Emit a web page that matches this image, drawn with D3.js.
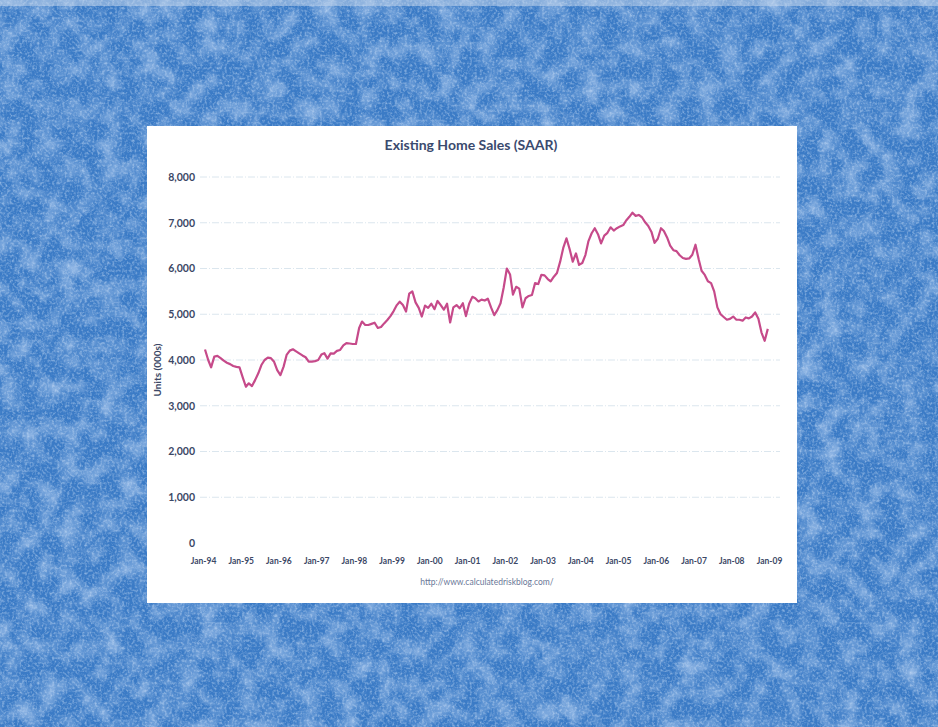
<!DOCTYPE html>
<html>
<head>
<meta charset="utf-8">
<script src="https://cdn.jsdelivr.net/npm/d3@7"></script>
<style>
html,body{margin:0;padding:0;background:#4a88cc;}
svg{display:block;}
</style>
</head>
<body>
<svg id="chart" width="938" height="727"></svg>
<script>
// ---- data ----
const title = "Existing Home Sales (SAAR)";
const yAxisTitle = "Units (000s)";
const sourceText = "http://www.calculatedriskblog.com/";
const startYear = 1994, startMonth = 0; // Jan-94, monthly
const sales = [
  4230, 4000, 3840, 4075, 4090, 4040, 3985, 3940, 3910, 3870,
  3850, 3840, 3620, 3415, 3490, 3430, 3560, 3710, 3890, 4000,
  4050, 4040, 3960, 3780, 3670, 3855, 4110, 4205, 4235, 4190,
  4145, 4100, 4060, 3965, 3965, 3975, 4000, 4120, 4150, 4030,
  4145, 4140, 4200, 4220, 4320, 4370, 4360, 4350, 4350, 4700,
  4840, 4765, 4765, 4790, 4815, 4700, 4720, 4800, 4875, 4960,
  5070, 5200, 5275, 5200, 5060, 5450, 5500, 5260, 5140, 4950,
  5190, 5140, 5230, 5110, 5290, 5200, 5100, 5230, 4820, 5150,
  5200, 5130, 5240, 4960, 5230, 5380, 5350, 5280, 5320, 5300,
  5340, 5150, 4980, 5090, 5240, 5580, 6000, 5870, 5430, 5600,
  5560, 5150, 5350, 5400, 5420, 5680, 5660, 5860, 5850, 5770,
  5720, 5820, 5900, 6150, 6450, 6660, 6420, 6150, 6330, 6080,
  6120, 6300, 6600, 6770, 6880, 6750, 6550, 6720, 6780, 6900,
  6830, 6880, 6920, 6950, 7050, 7130, 7220, 7150, 7170, 7120,
  7010, 6930, 6800, 6560, 6650, 6880, 6820, 6680, 6500, 6400,
  6380, 6290, 6230, 6210, 6220, 6300, 6520, 6200, 5950, 5860,
  5720, 5680, 5500, 5150, 5000, 4940, 4880, 4900, 4950, 4880,
  4880, 4860, 4930, 4910, 4950, 5040, 4900, 4600, 4420, 4680
];
const yTicks = [0, 1000, 2000, 3000, 4000, 5000, 6000, 7000, 8000];
const xTickLabels = ["Jan-94","Jan-95","Jan-96","Jan-97","Jan-98","Jan-99","Jan-00","Jan-01","Jan-02","Jan-03","Jan-04","Jan-05","Jan-06","Jan-07","Jan-08","Jan-09"];

// ---- drawing ----
const svg = d3.select("#chart");
const defs = svg.append("defs");
// coarse blotches
const f1 = defs.append("filter").attr("id","blotch").attr("x",0).attr("y",0).attr("width","100%").attr("height","100%");
f1.append("feTurbulence").attr("type","fractalNoise").attr("baseFrequency","0.05").attr("numOctaves",3).attr("seed",7).attr("result","n");
f1.append("feColorMatrix").attr("in","n").attr("type","matrix")
  .attr("values","0 0 0 0 0.45  0 0 0 0 0.62  0 0 0 0 0.88  1.4 0 0 0 -0.55")
  .attr("result","c");
f1.append("feComposite").attr("in","c").attr("in2","SourceGraphic").attr("operator","in");
// fine grain
const f2 = defs.append("filter").attr("id","grain").attr("x",0).attr("y",0).attr("width","100%").attr("height","100%");
f2.append("feTurbulence").attr("type","fractalNoise").attr("baseFrequency","0.4").attr("numOctaves",2).attr("seed",3).attr("result","n");
f2.append("feColorMatrix").attr("in","n").attr("type","matrix")
  .attr("values","0 0 0 0 0.62  0 0 0 0 0.75  0 0 0 0 0.93  1.2 0 0 0 -0.52")
  .attr("result","c");
f2.append("feComposite").attr("in","c").attr("in2","SourceGraphic").attr("operator","in");

// background
svg.append("rect").attr("width",938).attr("height",727).attr("fill","#3b7bc6");
svg.append("rect").attr("width",938).attr("height",727).attr("fill","#3b7bc6").attr("filter","url(#blotch)");
svg.append("rect").attr("width",938).attr("height",727).attr("fill","#3b7bc6").attr("filter","url(#grain)");
svg.append("rect").attr("width",938).attr("height",6).attr("fill","#c9d9ee").attr("opacity",0.5);

// panel
svg.append("rect").attr("x",147).attr("y",126).attr("width",650).attr("height",477).attr("fill","#ffffff");

const data = sales.map((v,i)=>({date:new Date(startYear, startMonth+i, 1), value:v}));
const x = d3.scaleTime().domain([new Date(1994,0,1), new Date(2009,0,1)]).range([205, 771]);
const y = d3.scaleLinear().domain([0, 8000]).range([543, 177]);

const font = "Lato, 'Open Sans', sans-serif";

// gridlines
const grid = svg.append("g");
grid.selectAll("line").data(yTicks.filter(d=>d>0)).join("line")
  .attr("x1",200).attr("x2",780)
  .attr("y1",d=>y(d)).attr("y2",d=>y(d))
  .attr("stroke","#dbe6ee").attr("stroke-width",1).attr("stroke-dasharray","7,2,1,2");

// y axis
const yAxis = d3.axisLeft(y).tickValues(yTicks).tickSize(0).tickPadding(0).tickFormat(d3.format(","));
const gy = svg.append("g").attr("transform","translate(195,0)").call(yAxis);
gy.select(".domain").remove();
gy.selectAll("text").attr("font-family",font).attr("font-size","10.5px")
  .attr("fill","#3c4866").attr("font-weight","bold");

// x axis
const xTicks = xTickLabels.map((t,i)=>new Date(1994+i,0,1));
const xAxis = d3.axisBottom(x).tickValues(xTicks).tickSize(0).tickPadding(0)
  .tickFormat((d,i)=>xTickLabels[i]);
const gx = svg.append("g").attr("transform","translate(-2,558)").call(xAxis);
gx.select(".domain").remove();
gx.selectAll("text").attr("font-family",font).attr("font-size","8.5px")
  .attr("fill","#3c4866").attr("font-weight","bold");

// line
const line = d3.line().x(d=>x(d.date)).y(d=>y(d.value)).curve(d3.curveLinear);
svg.append("path").datum(data).attr("d",line)
  .attr("fill","none").attr("stroke","#c64a8a").attr("stroke-width",2.2).attr("stroke-linejoin","round");

// title
svg.append("text").attr("x",471).attr("y",150).attr("text-anchor","middle")
  .attr("font-family",font).attr("font-weight","bold").attr("font-size","14px")
  .attr("fill","#3a4a6e").text(title);

// y axis title
svg.append("text").attr("transform","translate(161,370) rotate(-90)").attr("text-anchor","middle")
  .attr("font-family",font).attr("font-weight","bold").attr("font-size","10px")
  .attr("fill","#3c4866").text(yAxisTitle);

// source
svg.append("text").attr("x",487).attr("y",585).attr("text-anchor","middle")
  .attr("font-family",font).attr("font-size","8.5px")
  .attr("fill","#6a7898").text(sourceText);
</script>
</body>
</html>
